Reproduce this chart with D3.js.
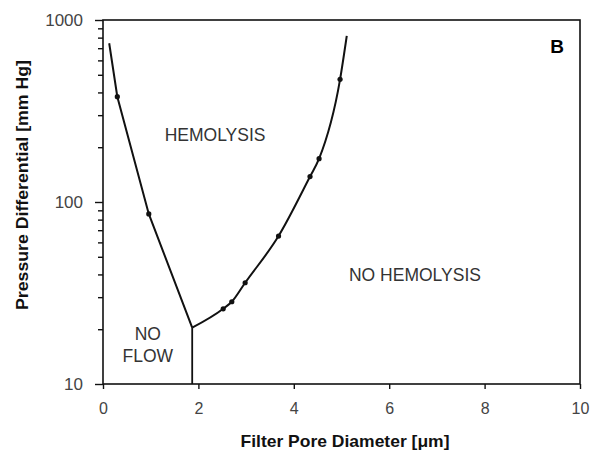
<!DOCTYPE html>
<html>
<head>
<meta charset="utf-8">
<script src="https://cdn.jsdelivr.net/npm/d3@7"></script>
<style>
  body { margin: 0; background: #fff; }
  .tick text { font-family: "Liberation Sans", Arial, sans-serif; fill: #444; }
  .region { font-family: "Liberation Sans", Arial, sans-serif; font-size: 17.5px; fill: #333; }
  .axisTitle { font-family: "Liberation Sans", Arial, sans-serif; font-weight: bold; font-size: 17px; fill: #111; }
</style>
</head>
<body>
<div class="chart"></div>
<script>
// left boundary (hemolysis / no flow), pore diameter um vs pressure mm Hg
const leftX = [0.13, 0.30, 0.96, 1.87]
const leftY = [745, 379, 86, 20.4]
const leftMarked = [0, 1, 1, 0]

// right boundary (hemolysis / no hemolysis)
const rightX = [1.87, 2.52, 2.70, 2.98, 3.68, 4.34, 4.53, 4.97, 5.11]
const rightY = [20.4, 25.9, 28.3, 36, 65, 138, 173, 472, 817]
const rightMarked = [0, 1, 1, 1, 1, 1, 1, 1, 0]

// no flow boundary, vertical down to axis
const flowX = [1.87, 1.87]
const flowY = [20.4, 10]

const xTicks = [0, 2, 4, 6, 8, 10]
const yTicks = [10, 100, 1000]
const yMinor = [20, 30, 40, 50, 60, 70, 80, 90, 200, 300, 400, 500, 600, 700, 800, 900]

const labels = [
  { text: 'HEMOLYSIS', x: 2.35, y: 216 },
  { text: 'NO HEMOLYSIS', x: 6.54, y: 37 },
  { text: 'NO', x: 0.94, y: 17.5 },
  { text: 'FLOW', x: 0.94, y: 13.2 }
]

const margin = { top: 20, right: 12, bottom: 77, left: 103 }
const width = 592 - margin.left - margin.right
const height = 461 - margin.top - margin.bottom

const svg = d3.select('.chart')
  .append('svg')
  .attr('width', 592)
  .attr('height', 461)

const g = svg.append('g')
  .attr('transform', `translate(${margin.left}, ${margin.top})`)

const xScale = d3.scaleLinear().domain([0, 10]).range([0, width])
const yScale = d3.scaleLog().domain([10, 1000]).range([height, 0])

// frame
g.append('rect')
  .attr('width', width)
  .attr('height', height)
  .attr('fill', 'none')
  .attr('stroke', '#111')
  .attr('stroke-width', 1.6)

// X axis
const xAxis = g.append('g')
  .attr('transform', `translate(0, ${height})`)
  .call(d3.axisBottom(xScale).tickValues(xTicks).tickSize(5).tickPadding(14).tickFormat(d3.format('d')))
xAxis.select('.domain').remove()
xAxis.selectAll('line').attr('stroke', '#111').attr('stroke-width', 1.4)
xAxis.selectAll('text').style('font-size', '16px')

// Y axis
const yAxis = g.append('g')
  .call(d3.axisLeft(yScale).tickValues(yTicks).tickSize(8).tickPadding(12).tickFormat(d3.format('d')))
yAxis.select('.domain').remove()
yAxis.selectAll('line').attr('stroke', '#111').attr('stroke-width', 1.4)
yAxis.selectAll('text').style('font-size', '17px')

const yAxisMinor = g.append('g')
  .call(d3.axisLeft(yScale).tickValues(yMinor).tickSize(5).tickFormat(''))
yAxisMinor.select('.domain').remove()
yAxisMinor.selectAll('line').attr('stroke', '#111').attr('stroke-width', 1.4)

// curves
const toPts = (xs, ys) => xs.map((x, i) => [xScale(x), yScale(ys[i])])

g.append('path')
  .attr('d', d3.line()(toPts(leftX, leftY)))
  .attr('fill', 'none').attr('stroke', '#111').attr('stroke-width', 2)

g.append('path')
  .attr('d', d3.line().curve(d3.curveMonotoneX)(toPts(rightX, rightY)))
  .attr('fill', 'none').attr('stroke', '#111').attr('stroke-width', 2)

g.append('path')
  .attr('d', d3.line()(toPts(flowX, flowY)))
  .attr('fill', 'none').attr('stroke', '#111').attr('stroke-width', 1.8)

// markers
const marks = leftX.map((x, i) => ({ x, y: leftY[i], m: leftMarked[i] }))
  .concat(rightX.map((x, i) => ({ x, y: rightY[i], m: rightMarked[i] })))
  .filter(d => d.m)

g.selectAll('circle')
  .data(marks)
  .enter()
  .append('circle')
  .attr('cx', d => xScale(d.x))
  .attr('cy', d => yScale(d.y))
  .attr('r', 2.6)
  .attr('fill', '#111')

// region labels
g.selectAll('.region')
  .data(labels)
  .enter()
  .append('text')
  .attr('class', 'region')
  .attr('x', d => xScale(d.x))
  .attr('y', d => yScale(d.y))
  .attr('text-anchor', 'middle')
  .text(d => d.text)

g.append('text')
  .attr('x', width - 23)
  .attr('y', 33)
  .attr('text-anchor', 'middle')
  .style('font-family', '"Liberation Sans", Arial, sans-serif')
  .style('font-weight', 'bold')
  .style('font-size', '19px')
  .text('B')

// axis titles (condensed lettering)
g.append('text')
  .attr('class', 'axisTitle')
  .attr('x', 242)
  .attr('y', height + 63)
  .attr('text-anchor', 'middle')
  .attr('textLength', 209)
  .attr('lengthAdjust', 'spacingAndGlyphs')
  .text('Filter Pore Diameter [\u03bcm]')

g.append('text')
  .attr('class', 'axisTitle')
  .attr('transform', 'rotate(-90)')
  .attr('x', -165)
  .attr('y', -75)
  .attr('text-anchor', 'middle')
  .attr('textLength', 250)
  .attr('lengthAdjust', 'spacingAndGlyphs')
  .text('Pressure Differential [mm Hg]')
</script>
</body>
</html>
